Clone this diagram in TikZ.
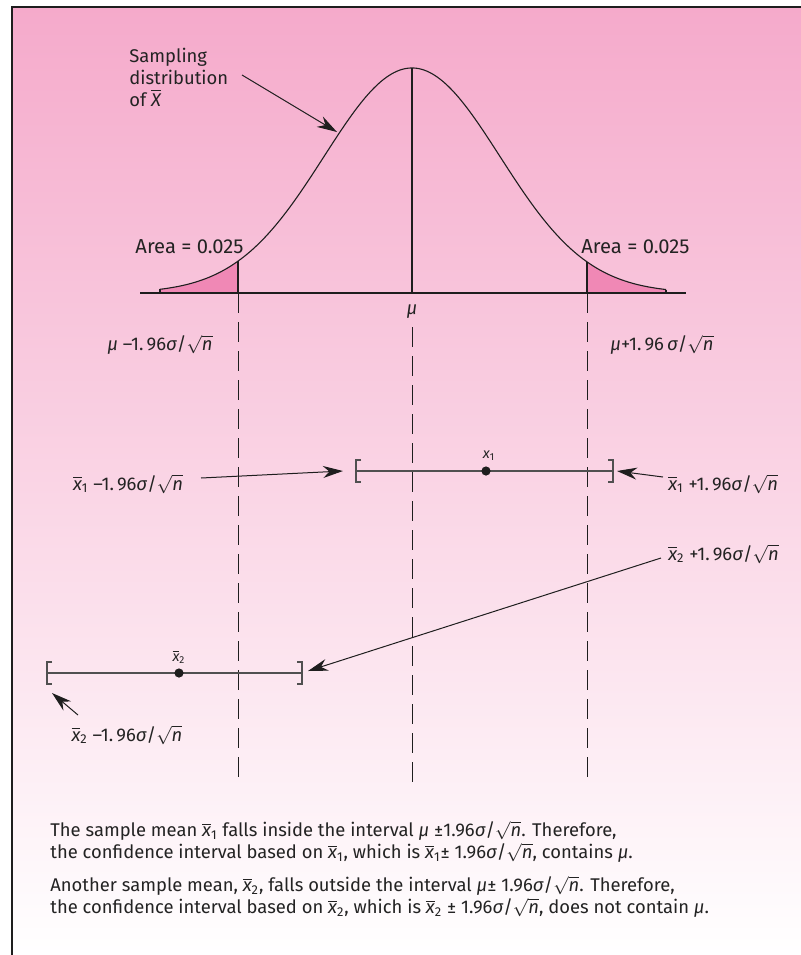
\documentclass[tikz,border=0pt]{standalone}
\usepackage{amsmath}
\usepackage{fontspec}
\setmainfont{Fira Sans}
\usetikzlibrary{
  arrows.meta,
  positioning,
  calc
}
\definecolor{bgtop}{RGB}{245, 170, 203}
\definecolor{tailcolor}{RGB}{240, 136, 181}
\definecolor{linecolor}{RGB}{30, 30, 30}
\definecolor{cicolor}{RGB}{80, 80, 80}
\definecolor{labelcolor}{RGB}{35, 35, 35}

\newcommand{\mug}{\textit{μ}}
\newcommand{\sig}{\textit{σ}}
\newcommand{\rtn}{$\sqrt{\text{\itshape n}}$}
\newcommand{\xb}[1]{$\overline{\text{\itshape x}}_{\text{#1}}$}

\tikzset{
labeltext/.style={
  font=\fontsize{9.2}{11}\selectfont,
  text=labelcolor,
  inner sep=0pt
},
arealabel/.style={
  labeltext,
  font=\fontsize{10.1}{12}\selectfont
},
smalltext/.style={
  font=\fontsize{7.2}{8}\selectfont,
  text=labelcolor,
  inner sep=0pt
},
curve/.style={
  draw=linecolor,
  line width=0.55pt
},
axisline/.style={
  draw=linecolor,
  line width=1.2pt
},
guide/.style={
  draw=linecolor,
  line width=0.5pt,
  dash pattern=on 10pt off 4.5pt
},
ci/.style={
  draw=cicolor,
  line width=0.8pt
},
arrow/.style={
  -{Stealth[length=10pt,width=6pt]},
  line width=0.5pt,
  draw=linecolor
},
framelines/.style={
  draw=linecolor,
  line width=0.7pt
}
}

\begin{document}
\begin{tikzpicture}[
      x=0.5pt, y=-0.5pt,
      declare function={bell(\t)=293-225*exp(-0.5*((\t-412)/88)*((\t-412)/88));},
    ]
      \useasboundingbox (0,0) rectangle (801,955);

      % Background and frame
      \shade[top color=bgtop, bottom color=white] (12,7) rectangle (801,955);
      \draw[framelines] (12,955) -- (12,7) -- (801,7);

      % Shaded tails
      \fill[tailcolor] (160,293) -- plot[domain=160:238, samples=40] (\x,{bell(\x)}) -- (238,293) -- cycle;
      \fill[tailcolor] (587,293) -- plot[domain=587:666, samples=40] (\x,{bell(\x)}) -- (666,293) -- cycle;

      % Normal curve
      \draw[curve] plot[domain=160:666, samples=200] (\x,{bell(\x)});
      \draw[curve] (160,{bell(160)}) -- (160,293);
      \draw[curve] (666,{bell(666)}) -- (666,293);
      \draw[curve] (412,{bell(412)}) -- (412,293);
      \draw[curve] (238,{bell(238)}) -- (238,293);
      \draw[curve] (587,{bell(587)}) -- (587,293);

      % Axis
      \draw[axisline] (140,293) -- (686,293);

      % Curve labels
      \node[labeltext, align=left, anchor=west] (samp) at (129,77) {
        Sampling\\distribution\\of $\overline{\text{\itshape X}}$
      };
      \coordinate (sampTail) at (242,75);
      \coordinate (sampTip) at (337,132);
      \draw[arrow] (sampTail) -- (sampTip);

      \node[arealabel, anchor=east] (areaL) at (244,247) {Area = 0.025};
      \node[arealabel, anchor=west] (areaR) at (581,247) {Area = 0.025};

      % Axis labels
      \node[labeltext] (mu) at (412,312) {\mug};
      \node[labeltext] (critL) at (160,345) {\mug\ –1.\,96\sig/\rtn};
      \node[labeltext] (critR) at (662,345) {\mug+1.\,96\,\sig/\rtn};

      % Dashed guides
      \draw[guide] (238,293) -- (238,778);
      \draw[guide] (mu.south) ++(0,8) -- (412,783);
      \draw[guide] (587,293) -- (587,778);

      % Interval 1
      \coordinate (a1) at (356,471);
      \coordinate (b1) at (613,471);
      \draw[ci] (a1) -- (b1);
      \draw[ci] (a1) ++(5,-11) -- ++(-5,0) -- ++(0,22) -- ++(5,0);
      \draw[ci] (b1) ++(-5,-11) -- ++(5,0) -- ++(0,22) -- ++(-5,0);
      \fill[linecolor] (486,471) circle (2.3pt) coordinate (m1);
      \node[smalltext] (m1lab) at (489,456) {\textit{x}$_{\text{1}}$};

      \node[labeltext] (lo1) at (128,484) {\xb{1} –1.\,96\sig/\rtn};
      \node[labeltext, anchor=west] (hi1) at (668,484) {\xb{1} +1.\,96\sig/\rtn};
      \coordinate (lo1Tail) at (201,478);
      \coordinate (lo1Tip) at (343,471);
      \coordinate (hi1Tail) at (663,477);
      \coordinate (hi1Tip) at (617,471);
      \draw[arrow] (lo1Tail) -- (lo1Tip);
      \draw[arrow] (hi1Tail) -- (hi1Tip);

      % Interval 2
      \coordinate (a2) at (47,673);
      \coordinate (b2) at (302,673);
      \draw[ci] (a2) -- (b2);
      \draw[ci] (a2) ++(5,-11) -- ++(-5,0) -- ++(0,22) -- ++(5,0);
      \draw[ci] (b2) ++(-5,-11) -- ++(5,0) -- ++(0,22) -- ++(-5,0);
      \fill[linecolor] (179,673) circle (2.3pt) coordinate (m2);
      \node[smalltext] (m2lab) at (179,657) {\xb{2}};

      \node[labeltext, anchor=west] (hi2) at (668,554) {\xb{2} +1.\,96\sig/\rtn};
      \node[labeltext] (lo2) at (127,735) {\xb{2} –1.\,96\sig/\rtn};
      \coordinate (hi2Tail) at (661,558);
      \coordinate (hi2Tip) at (308,671);
      \coordinate (lo2Tail) at (78,715);
      \coordinate (lo2Tip) at (52,693);
      \draw[arrow] (hi2Tail) -- (hi2Tip);
      \draw[arrow] (lo2Tail) -- (lo2Tip);

      % Explanation text
      \node[labeltext, align=left, anchor=west] (note1) at (50,842) {
        The sample mean \xb{1} falls inside the interval \mug{} ±1.96\sig/\rtn. Therefore,\\
        the confidence interval based on \xb{1}, which is \xb{1}± 1.96\sig/\rtn, contains \mug.
      };
      \node[labeltext, align=left, anchor=west] (note2) at (50,897) {
        Another sample mean, \xb{2}, falls outside the interval \mug± 1.96\sig/\rtn. Therefore,\\
        the confidence interval based on \xb{2}, which is \xb{2} ± 1.96\sig/\rtn, does not contain \mug.
      };
    \end{tikzpicture}
\end{document}
